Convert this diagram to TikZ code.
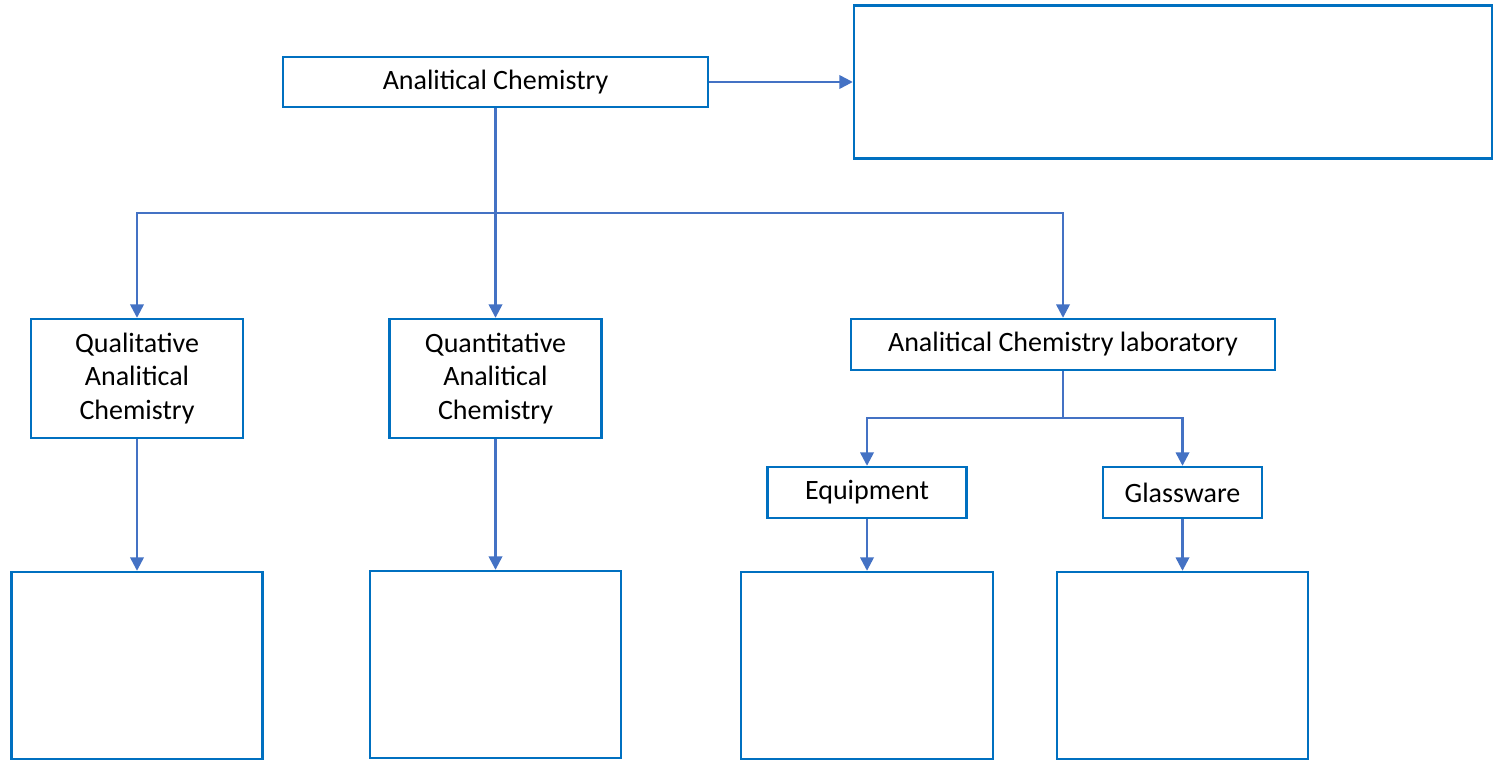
\documentclass[tikz,border=0pt]{standalone}
\usepackage{fontspec}
\setmainfont{Carlito}
\usetikzlibrary{arrows.meta}
\definecolor{boxblue}{HTML}{0070C0}
\definecolor{linkblue}{HTML}{4472C4}
\begin{document}
\begin{tikzpicture}[x=0.75pt,y=-0.75pt,
  box/.style={draw=boxblue,line width=1.8pt,fill=white,inner sep=0pt,align=center,
    font=\fontsize{21pt}{25pt}\selectfont},
  link/.style={draw=linkblue,line width=1.8pt},
  arr/.style={link,-{Triangle[width=10pt,length=10pt]}}]
\useasboundingbox (0,0) rectangle (1499,760);
\node[box,minimum width=318.75pt,minimum height=37.5pt] (ac) at (495.5,82) {Analitical Chemistry};
\node[box,minimum width=478.5pt,minimum height=114.75pt] (right) at (1173,82) {};
\node[box,minimum width=159pt,minimum height=89.25pt] (qual) at (137,378.5) {Qualitative\\Analitical\\Chemistry};
\node[box,minimum width=159pt,minimum height=89.25pt] (quant) at (495.5,378.5) {Quantitative\\Analitical\\Chemistry};
\node[box,minimum width=318pt,minimum height=38.25pt] (lab) at (1063,344.5) {Analitical Chemistry laboratory};
\node[box,minimum width=149.25pt,minimum height=38.25pt] (equip) at (867,492.5) {Equipment};
\node[box,minimum width=119.25pt,minimum height=38.25pt] (glass) at (1182.5,492.5) {Glassware};
\node[box,minimum width=188.25pt,minimum height=140.25pt] (b1) at (137,665.5) {};
\node[box,minimum width=188.25pt,minimum height=140.25pt] (b2) at (495.5,664.5) {};
\node[box,minimum width=189pt,minimum height=140.25pt] (b3) at (867,665.5) {};
\node[box,minimum width=188.25pt,minimum height=140.25pt] (b4) at (1182.5,665.5) {};
\coordinate (j1) at (495.5,213);
\coordinate (j2) at (1063,418);
\draw[arr] (ac.east) -- (right.west);
\draw[link] (ac.south) -- (j1);
\draw[arr] (j1) -- (quant.north);
\draw[arr] (j1) -| (qual.north);
\draw[arr] (j1) -| (lab.north);
\draw[link] (lab.south) -- (j2);
\draw[arr] (j2) -| (equip.north);
\draw[arr] (j2) -| (glass.north);
\draw[arr] (qual.south) -- (b1.north);
\draw[arr] (quant.south) -- (b2.north);
\draw[arr] (equip.south) -- (b3.north);
\draw[arr] (glass.south) -- (b4.north);
\end{tikzpicture}
\end{document}
